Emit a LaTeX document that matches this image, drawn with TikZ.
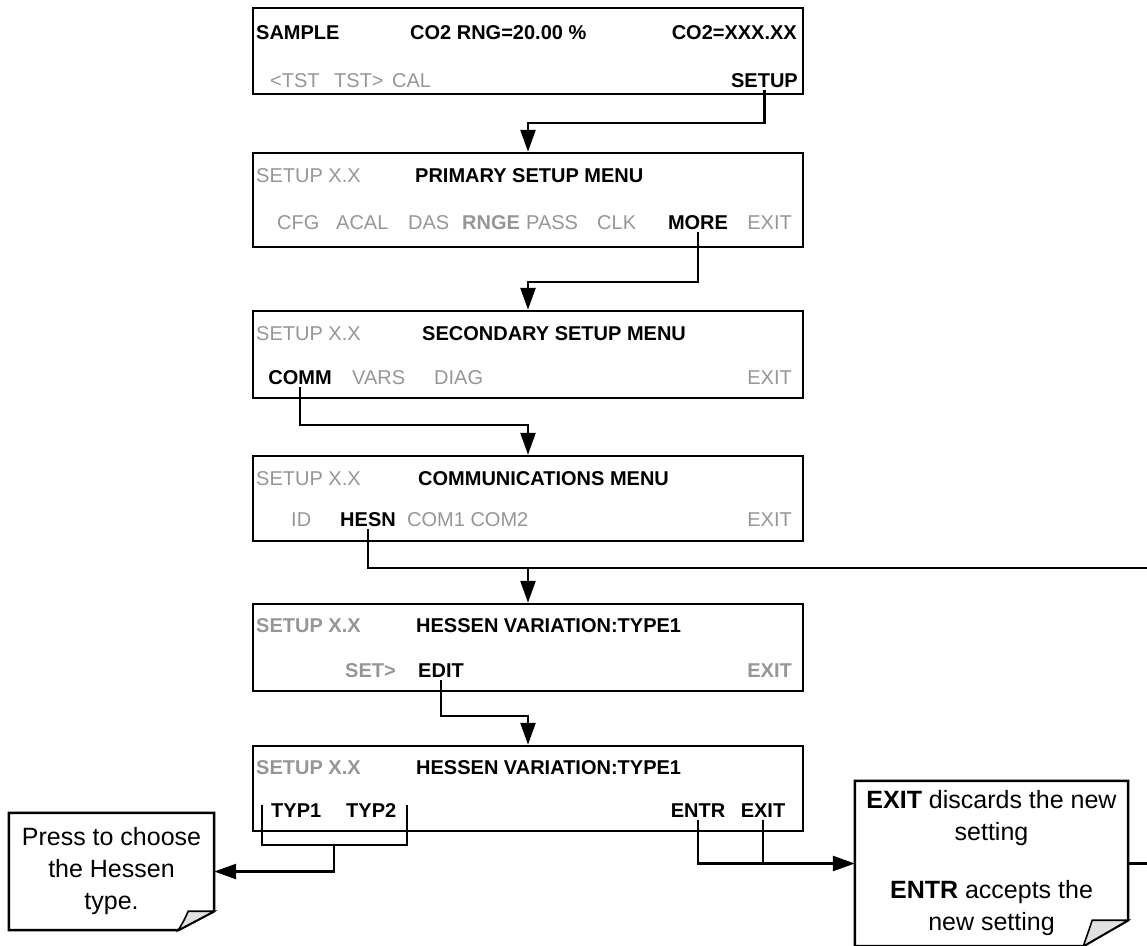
\documentclass[tikz,border=0pt]{standalone}
\usepackage{fontspec}
\setmainfont{Liberation Sans}
\usetikzlibrary{arrows.meta}
\definecolor{keygray}{RGB}{150,150,150}
\definecolor{foldgray}{RGB}{225,225,225}
\newcommand{\scrfont}{\fontsize{20}{23}\selectfont}
\newcommand{\notefont}{\fontsize{25}{32}\selectfont}

\begin{document}
\begin{tikzpicture}[x=1pt, y=-1pt,
		screen/.style={draw, line width=2.5pt, minimum width=550pt, inner sep=0pt},
		lbl/.style={font=\scrfont, inner xsep=0pt, inner ysep=3pt, text height=14.3pt, text depth=0pt},
		dim/.style={lbl, text=keygray},
		key/.style={lbl, font=\scrfont\bfseries},
		dimkey/.style={key, text=keygray},
		wire/.style={line width=2.5pt},
		arrow/.style={wire, -{Triangle[length=22pt,width=15pt]}},
		note/.style={font=\notefont, align=center, inner sep=0pt}
	]
		\useasboundingbox (0,0) rectangle (1147,945);

		% screens
		\node[screen, minimum height=86pt] (sample) at (528,51) {};
		\node[screen, minimum height=94pt] (prim) at (528,200) {};
		\node[screen, minimum height=87pt] (second) at (528,354.5) {};
		\node[screen, minimum height=85pt] (commmenu) at (528,498.5) {};
		\node[screen, minimum height=87pt] (hessen) at (528,647.5) {};
		\node[screen, minimum height=85pt] (hessenedit) at (528,788.5) {};

		% SAMPLE
		\node[key, anchor=west] at (256,32) {SAMPLE};
		\node[key, anchor=west] at (410,32) {CO2 RNG=20.00 \%};
		\node[key, anchor=east] at (797,32) {CO2=XXX.XX};
		\node[dim, anchor=west] at (270,80) {<TST};
		\node[dim, anchor=west] at (334,80) {TST>};
		\node[dim, anchor=west] at (392,80) {CAL};
		\node[key, anchor=east] (setupkey) at (798,80) {SETUP};

		% primary setup
		\node[dim, anchor=west] at (256,175) {SETUP X.X};
		\node[key, anchor=west] at (415,175) {PRIMARY SETUP MENU};
		\node[dim, anchor=west] at (277,222) {CFG};
		\node[dim, anchor=west] at (336,222) {ACAL};
		\node[dim, anchor=west] at (408,222) {DAS};
		\node[dimkey, anchor=west] at (462,222) {RNGE};
		\node[dim, anchor=west] at (526,222) {PASS};
		\node[dim, anchor=west] at (597,222) {CLK};
		\node[key] (morekey) at (698,222) {MORE};
		\node[dim, anchor=east] at (792,222) {EXIT};

		% secondary setup
		\node[dim, anchor=west] at (256,333) {SETUP X.X};
		\node[key, anchor=west] at (422,333) {SECONDARY SETUP MENU};
		\node[key] (commkey) at (300,377) {COMM};
		\node[dim, anchor=west] at (352,377) {VARS};
		\node[dim, anchor=west] at (434,377) {DIAG};
		\node[dim, anchor=east] at (792,377) {EXIT};

		% communications
		\node[dim, anchor=west] at (256,478) {SETUP X.X};
		\node[key, anchor=west] at (418,478) {COMMUNICATIONS MENU};
		\node[dim, anchor=west] at (291,519) {ID};
		\node[key] (hesnkey) at (368,519) {HESN};
		\node[dim, anchor=west] at (407,519) {COM1 COM2};
		\node[dim, anchor=east] at (792,519) {EXIT};

		% hessen variation
		\node[dimkey, anchor=west] at (256,625) {SETUP X.X};
		\node[key, anchor=west] at (416,625) {HESSEN VARIATION:TYPE1};
		\node[dimkey, anchor=west] at (345,670) {SET>};
		\node[key] (editkey) at (441,670) {EDIT};
		\node[dimkey, anchor=east] at (792,670) {EXIT};

		% hessen variation edit
		\node[dimkey, anchor=west] at (256,767) {SETUP X.X};
		\node[key, anchor=west] at (416,767) {HESSEN VARIATION:TYPE1};
		\node[key, anchor=west] (typone) at (271,810) {TYP1};
		\node[key, anchor=west] (typtwo) at (346,810) {TYP2};
		\node[key] (entrkey) at (698,810) {ENTR};
		\node[key] (exitkey) at (763,810) {EXIT};

		% notes
		\node[note, minimum width=205pt, minimum height=117pt] (typenote) at (111.5,871.5)
			{Press to choose\\the Hessen\\type.};
		\draw[wire] (typenote.north west) -- (typenote.north east) -- ([yshift=19pt]typenote.south east)
			-- ([xshift=-36pt]typenote.south east) -- (typenote.south west) -- cycle;
		\filldraw[line width=1.6pt, fill=foldgray] ([xshift=-36pt]typenote.south east)
			.. controls ([xshift=-30pt,yshift=10pt]typenote.south east) .. ([xshift=-26pt,yshift=19pt]typenote.south east)
			-- ([yshift=19pt]typenote.south east) -- cycle;

		\node[note, minimum width=273pt, minimum height=165pt] (exitnote) at (991.5,863.5)
			{\textbf{EXIT} discards the new\\setting\\[26pt]\textbf{ENTR} accepts the\\new setting};
		\draw[wire] (exitnote.north west) -- (exitnote.north east) -- ([yshift=26pt]exitnote.south east)
			-- ([xshift=-45pt]exitnote.south east) -- (exitnote.south west) -- cycle;
		\filldraw[line width=1.6pt, fill=foldgray] ([xshift=-45pt]exitnote.south east)
			.. controls ([xshift=-40pt,yshift=14pt]exitnote.south east) .. ([xshift=-36pt,yshift=26pt]exitnote.south east)
			-- ([yshift=26pt]exitnote.south east) -- cycle;

		% connectors
		\coordinate (j1) at (528,123);
		\coordinate (j2) at (528,282);
		\coordinate (j3) at (528,425);
		\coordinate (j4) at (1147,568);
		\coordinate (j5) at (528,716);
		\coordinate (edge) at (1147,863.5);
		\coordinate (brl) at (262,805);
		\coordinate (brr) at (407,805);
		\coordinate (brm) at (334,845);

		\draw[arrow] (setupkey.south) |- (j1) -- (prim.north);
		\draw[arrow] (morekey.south) |- (j2) -- (second.north);
		\draw[arrow] (commkey.south) |- (j3) -- (commmenu.north);
		\draw[wire] (hesnkey.south) |- (j4);
		\draw[arrow] (hessen.north |- j4) -- (hessen.north);
		\draw[arrow] (editkey.south) |- (j5) -- (hessenedit.north);
		\draw[wire] (brl) |- (brm) -| (brr);
		\draw[arrow] (brm) |- (typenote.east);
		\draw[arrow] (entrkey.south) |- (exitnote.west);
		\draw[wire] (exitkey.south) -- (exitkey.south |- exitnote.west);
		\draw[wire] (exitnote.east) -- (edge);
	\end{tikzpicture}
\end{document}
